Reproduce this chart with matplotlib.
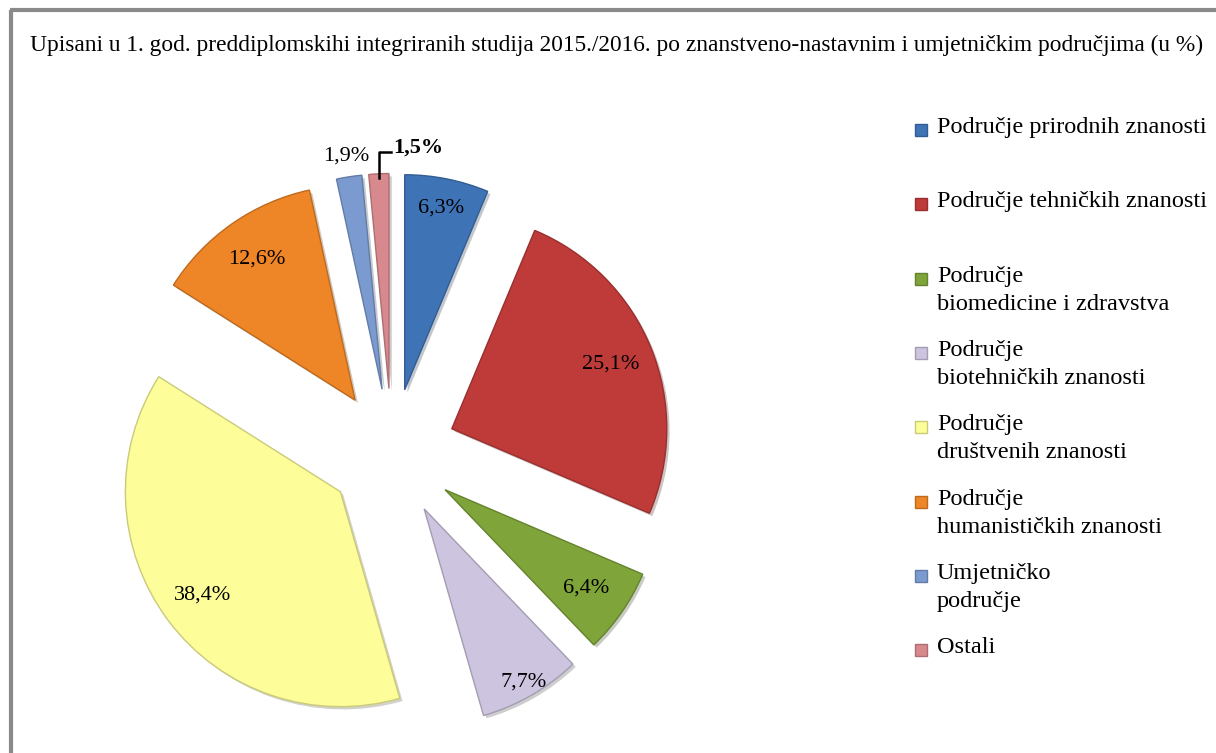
import numpy as np
import matplotlib
matplotlib.use('Agg')
import matplotlib.pyplot as plt
import matplotlib.colors as mcolors
import matplotlib.patheffects as pe

# Data
categories = ['Područje prirodnih znanosti',
              'Područje tehničkih znanosti',
              'Područje\nbiomedicine i zdravstva',
              'Područje\nbiotehničkih znanosti',
              'Područje\ndruštvenih znanosti',
              'Područje\nhumanističkih znanosti',
              'Umjetničko\npodručje',
              'Ostali']
shares = [6.3, 25.1, 6.4, 7.7, 38.4, 12.6, 1.9, 1.5]
colors = ['#3e73b6', '#be3b39', '#7ea43a', '#cdc4df',
          '#fdfd9a', '#ee8526', '#7b9bd0', '#d8898d']
title = ('Upisani u 1. god. preddiplomskihi integriranih studija 2015./2016. '
         'po znanstveno-nastavnim i umjetničkim područjima (u %)')

plt.rcParams['font.family'] = ['Liberation Serif', 'DejaVu Serif']

W, H = 1216, 753
fig = plt.figure(figsize=(W / 100, H / 100), dpi=100)
ax = fig.add_axes([0, 0, 1, 1])

R = 215
edge = [mcolors.to_hex(np.array(mcolors.to_rgb(c)) * 0.8) for c in colors]
# explode is in data units here, so scale by radius
wedges, _ = ax.pie(shares, colors=colors, startangle=90, counterclock=False,
                   explode=[0.3 * R] * len(shares), radius=R,
                   center=(392, H - 453),
                   wedgeprops=dict(linewidth=1, edgecolor='none'))
for w, e in zip(wedges, edge):
    w.set_edgecolor(e)
    w.set_path_effects([pe.SimplePatchShadow(offset=(2, -2), alpha=0.25),
                        pe.Normal()])

ax.set_xlim(0, W)
ax.set_ylim(0, H)
ax.set_aspect('equal')
ax.axis('off')

# frame of the chart area
ax.plot([10, W], [H - 10, H - 10], color='#8a8a8a', lw=3, solid_capstyle='butt')
ax.plot([11, 11], [0, H - 10], color='#8a8a8a', lw=3, solid_capstyle='butt')

fig.text(30 / W, 1 - 45 / H, title, fontsize=16.85, va='center', ha='left')

# percent labels
label_r = {0: 0.86, 3: 0.93}
for i, (w, v) in enumerate(zip(wedges, shares)):
    mid = np.deg2rad((w.theta1 + w.theta2) / 2)
    cx, cy = w.center
    txt = f'{v:.1f}%'.replace('.', ',')
    if i == 6:
        d = 1.1
        ax.text(cx + d * R * np.cos(mid), cy + d * R * np.sin(mid), txt,
                ha='center', va='center', fontsize=16)
    elif i == 7:
        tip_x = cx + R * np.cos(mid)
        tip_y = cy + R * np.sin(mid)
        ax.plot([tip_x, tip_x, tip_x + 12], [tip_y - 4, tip_y + 22, tip_y + 22],
                color='black', lw=1.8)
        ax.text(tip_x + 14, tip_y + 26, txt, ha='left', va='center',
                fontsize=16, fontweight='bold')
    else:
        d = label_r.get(i, 0.8)
        ax.text(cx + d * R * np.cos(mid), cy + d * R * np.sin(mid), txt,
                ha='center', va='center', fontsize=16)

# legend
ly = 130
for c, e, lab in zip(colors, edge, categories):
    ax.add_patch(plt.Rectangle((915, H - ly - 6), 12, 12, facecolor=c,
                               edgecolor=e, lw=1))
    ax.text(937, H - ly + 13, lab, ha='left', va='top', fontsize=17.5,
            linespacing=1.45)
    ly += 74.3

fig.savefig('out.png', dpi=100)
